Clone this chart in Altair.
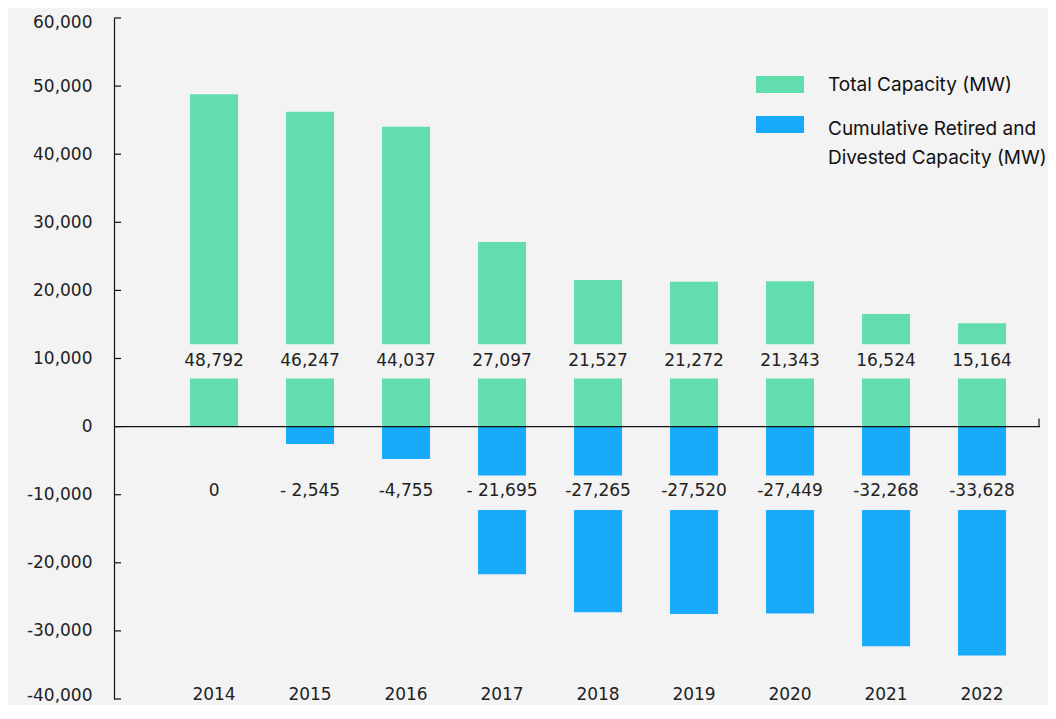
import altair as alt
import pandas as pd

years = [2014, 2015, 2016, 2017, 2018, 2019, 2020, 2021, 2022]
total_mw = [48792, 46247, 44037, 27097, 21527, 21272, 21343, 16524, 15164]
retired_mw = [0, -2545, -4755, -21695, -27265, -27520, -27449, -32268, -33628]
total_text = ["48,792", "46,247", "44,037", "27,097", "21,527", "21,272", "21,343", "16,524", "15,164"]
retired_text = ["0", "- 2,545", "-4,755", "- 21,695", "-27,265", "-27,520", "-27,449", "-32,268", "-33,628"]
series_names = ["Total Capacity (MW)", "Cumulative Retired and Divested Capacity (MW)"]
legend_text = ["Total Capacity (MW)", "Cumulative Retired and|Divested Capacity (MW)"]
series_colors = ["#62DDAD", "#19AAFC"]
y_ticks = list(range(-40000, 60001, 10000))

# label bands (where value labels sit and bars are interrupted)
green_band = [7050, 12090]
blue_band = [-12230, -7190]
green_label_y = 9600
blue_label_y = -9400

BG = "#F3F3F3"
INK = "#222222"
NUM_FONT = "DejaVu Sans"
W, H = 926, 681

x_scale = alt.Scale(domain=[2012.958, 2012.958 + W / 96], nice=False, zero=False, padding=0)
y_scale = alt.Scale(domain=[-40000, 60000], nice=False, zero=False)
color_scale = alt.Scale(domain=series_names, range=series_colors)
y_axis = alt.Axis(
    values=y_ticks, ticks=False, grid=False, title=None,
    domainColor="#111111", domainWidth=1.2,
    labelFont=NUM_FONT, labelFontSize=17, labelColor=INK, labelPadding=22,
    labelExpr="replace(format(datum.value, ','), '\u2212', '-')",
    labelOffset={"condition": [
        {"test": "datum.value == 60000", "value": 4},
        {"test": "datum.value == -40000", "value": -4},
    ], "value": 0},
)

bars_df = pd.DataFrame({
    "year": years * 2,
    "value": total_mw + retired_mw,
    "series": [series_names[0]] * len(years) + [series_names[1]] * len(years),
})

bars = alt.Chart(bars_df).mark_bar(size=48).encode(
    x=alt.X("year:Q", scale=x_scale, axis=None),
    y=alt.Y("value:Q", scale=y_scale, axis=y_axis),
    color=alt.Color("series:N", scale=color_scale, legend=None),
)

band_df = pd.DataFrame({
    "year": years * 2,
    "value": [green_band[0]] * len(years) + [blue_band[0]] * len(years),
    "hi": [green_band[1]] * len(years) + [blue_band[1]] * len(years),
})
bands = alt.Chart(band_df).mark_bar(size=54, color=BG).encode(
    x=alt.X("year:Q", scale=x_scale, axis=None),
    y=alt.Y("value:Q", scale=y_scale, axis=y_axis),
    y2="hi:Q",
)

labels_df = pd.DataFrame({
    "year": years * 2,
    "value": [green_label_y] * len(years) + [blue_label_y] * len(years),
    "label": total_text + retired_text,
})
value_labels = alt.Chart(labels_df).mark_text(
    font=NUM_FONT, fontSize=17, color=INK, baseline="middle", align="center"
).encode(
    x=alt.X("year:Q", scale=x_scale, axis=None),
    y=alt.Y("value:Q", scale=y_scale, axis=y_axis),
    text="label:N",
)

zero_line = alt.Chart(pd.DataFrame({"value": [0]})).mark_rule(color="#111111", strokeWidth=1.2).encode(
    y=alt.Y("value:Q", scale=y_scale, axis=y_axis)
)
zero_end = alt.Chart(pd.DataFrame({"value": [0], "z2": [1200]})).mark_rule(color="#111111", strokeWidth=1.2).encode(
    x=alt.value(W - 1),
    y=alt.Y("value:Q", scale=y_scale, axis=y_axis),
    y2="z2:Q",
)

ticks = alt.Chart(pd.DataFrame({"value": y_ticks})).mark_rule(color="#111111", strokeWidth=1.2).encode(
    y=alt.Y("value:Q", scale=y_scale, axis=y_axis),
    x=alt.value(0),
    x2=alt.value(7),
)

year_labels = alt.Chart(pd.DataFrame({"year": years, "value": [-40000] * len(years),
                                      "yl": [str(y) for y in years]})).mark_text(
    font=NUM_FONT, fontSize=17, color=INK, baseline="middle", align="center", dy=-4
).encode(
    x=alt.X("year:Q", scale=x_scale, axis=None),
    y=alt.Y("value:Q", scale=y_scale, axis=y_axis),
    text="yl:N",
)

# legend (drawn as marks, coloured through the same colour scale)
leg_layers = []
for i, (name, txt) in enumerate(zip(series_names, legend_text)):
    top = 58 + 40 * i
    sw = alt.Chart(pd.DataFrame({"series": [name]})).mark_rect().encode(
        x=alt.value(642), x2=alt.value(690),
        y=alt.value(top), y2=alt.value(top + 17),
        color=alt.Color("series:N", scale=color_scale, legend=None),
    )
    tx = alt.Chart(pd.DataFrame({"t": [txt]})).mark_text(
        font="Inter", fontSize=19, color="#111111", align="left", baseline="middle",
        lineBreak="|", lineHeight=29,
    ).encode(
        x=alt.value(714), y=alt.value(67 if i == 0 else 111),
        text="t:N",
    )
    leg_layers += [sw, tx]

chart = alt.layer(
    bars, bands, value_labels, zero_line, zero_end, ticks, year_labels, *leg_layers
).properties(
    width=W, height=H, background=BG,
    autosize=alt.AutoSizeParams(type="none"),
    padding={"left": 106, "top": 10, "right": 8, "bottom": 6},
).configure_view(stroke=None)

chart.save("out.html", embed_options={"renderer": "svg", "actions": False})
